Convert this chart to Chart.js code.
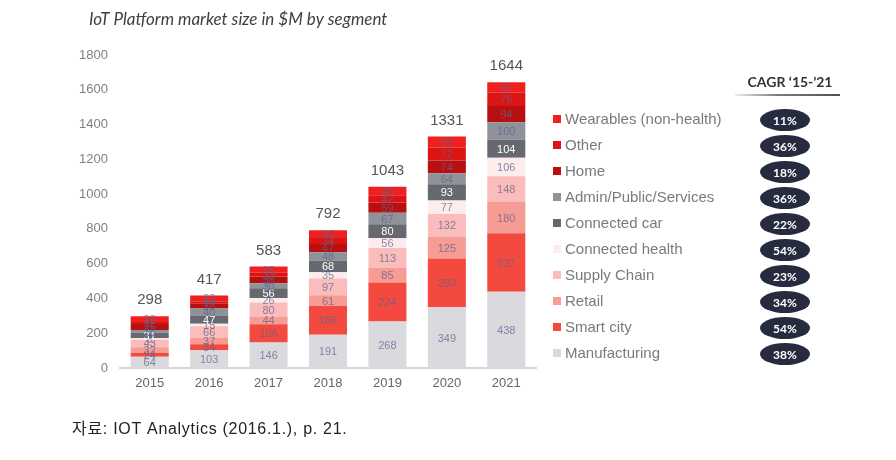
<!DOCTYPE html>
<html>
<head>
<meta charset="utf-8">
<script src="https://cdn.jsdelivr.net/npm/chart.js@4"></script>
<style>
  body { margin: 0; background: #fff; }
  #wrap { width: 896px; height: 460px; position: relative; }
</style>
</head>
<body>
<div id="wrap"><canvas id="iotChart" width="896" height="460"></canvas></div>
<script>
const years = ['2015', '2016', '2017', '2018', '2019', '2020', '2021'];

// segments, bottom of the stack first
const manufacturing   = [64, 103, 146, 191, 268, 349, 438];
const smartCity       = [24, 34, 106, 166, 224, 280, 337];
const retail          = [32, 37, 44, 61, 85, 125, 180];
const supplyChain     = [43, 66, 80, 97, 113, 132, 148];
const connectedHealth = [8, 15, 26, 35, 56, 77, 106];
const connectedCar    = [31, 47, 56, 68, 80, 93, 104];
const adminPublic     = [16, 40, 30, 48, 67, 64, 100];
const home            = [35, 28, 38, 47, 59, 74, 94];
const other           = [12, 14, 22, 34, 42, 72, 76];
const wearables       = [33, 33, 35, 45, 49, 65, 61];

const segmentNames = ['Manufacturing', 'Smart city', 'Retail', 'Supply Chain', 'Connected health',
                      'Connected car', 'Admin/Public/Services', 'Home', 'Other', 'Wearables (non-health)'];
const cagr = ['38%', '54%', '34%', '23%', '54%', '22%', '36%', '18%', '36%', '11%'];

const seriesData = [manufacturing, smartCity, retail, supplyChain, connectedHealth,
                    connectedCar, adminPublic, home, other, wearables];
const colors = ['#d9d9de', '#f4493f', '#f79b95', '#fbbdbb', '#fcecec',
                '#66696f', '#8f9298', '#b80f10', '#dc1414', '#f02020'];

const datasets = seriesData.map((d, i) => ({
    label: segmentNames[i],
    data: d,
    backgroundColor: colors[i],
    borderWidth: 0,
    barPercentage: 0.64,
    categoryPercentage: 1.0
}));

// value labels inside segments + totals on top
const labelPlugin = {
    id: 'segLabels',
    afterDatasetsDraw(chart) {
        const ctx = chart.ctx;
        ctx.save();
        ctx.textAlign = 'center';
        ctx.textBaseline = 'middle';
        chart.data.datasets.forEach((ds, i) => {
            const meta = chart.getDatasetMeta(i);
            meta.data.forEach((bar, j) => {
                const mid = (bar.y + bar.base) / 2;
                ctx.font = '11px "Liberation Sans", Arial, sans-serif';
                ctx.fillStyle = i === 5 ? '#ffffff' : 'rgba(92, 100, 140, 0.72)';
                ctx.fillText(ds.data[j], bar.x, mid + 1);
            });
        });
        // totals
        const lastMeta = chart.getDatasetMeta(chart.data.datasets.length - 1);
        ctx.font = '15px "Liberation Sans", Arial, sans-serif';
        ctx.fillStyle = '#555';
        lastMeta.data.forEach((bar, j) => {
            let total = 0;
            chart.data.datasets.forEach(ds => { total += ds.data[j]; });
            ctx.fillText(total, bar.x, bar.y - 16);
        });
        ctx.restore();
    }
};

// title, legend, CAGR column, source
const decoPlugin = {
    id: 'deco',
    afterDraw(chart) {
        const ctx = chart.ctx;
        ctx.save();
        ctx.textBaseline = 'middle';
        ctx.textAlign = 'left';
        ctx.font = 'italic 17px Lato, "Open Sans", sans-serif';
        ctx.fillStyle = '#404040';
        ctx.fillText('IoT Platform market size in $M by segment', 89, 20);

        // CAGR header
        ctx.textAlign = 'center';
        ctx.font = 'bold 14px Lato, "Open Sans", sans-serif';
        ctx.fillStyle = '#333';
        ctx.fillText('CAGR \u201815-\u201921', 790, 82);
        const grad = ctx.createLinearGradient(735, 0, 840, 0);
        grad.addColorStop(0, 'rgba(90,90,100,0.1)');
        grad.addColorStop(0.4, 'rgba(90,90,100,0.8)');
        grad.addColorStop(1, 'rgba(60,60,70,0.9)');
        ctx.fillStyle = grad;
        ctx.fillRect(735, 94, 105, 2);

        for (let k = 0; k < segmentNames.length; k++) {
            const i = segmentNames.length - 1 - k;
            const y = 119 + k * 26;
            ctx.fillStyle = colors[i];
            ctx.fillRect(553, y - 4, 8, 8);
            ctx.textAlign = 'left';
            ctx.font = '15px "Liberation Sans", Arial, sans-serif';
            ctx.fillStyle = '#7a7a7a';
            ctx.fillText(segmentNames[i], 565, y + 1);

            ctx.beginPath();
            ctx.ellipse(785, y + 1, 25, 11, 0, 0, Math.PI * 2);
            ctx.fillStyle = '#272b3f';
            ctx.fill();
            ctx.textAlign = 'center';
            ctx.font = 'bold 12px Lato, "Open Sans", sans-serif';
            ctx.fillStyle = '#ffffff';
            ctx.fillText(cagr[i], 785, y + 2);
        }

        ctx.textAlign = 'left';
        ctx.font = '16px "Liberation Sans", "Noto Sans CJK KR", sans-serif';
        ctx.letterSpacing = '0.7px';
        ctx.fillStyle = '#222';
        ctx.fillText('자료: IOT Analytics (2016.1.), p. 21.', 72, 430);
        ctx.restore();
    }
};

new Chart(document.getElementById('iotChart'), {
    type: 'bar',
    data: { labels: years, datasets: datasets },
    options: {
        responsive: false,
        animation: false,
        layout: { padding: { left: 60, right: 360, top: 55, bottom: 67 } },
        plugins: {
            legend: { display: false },
            tooltip: { enabled: false }
        },
        scales: {
            x: {
                stacked: true,
                grid: { display: false, drawTicks: false },
                border: { display: true, color: '#d6d6d6', width: 2 },
                ticks: {
                    color: '#666',
                    font: { size: 13, family: '"Liberation Sans", Arial, sans-serif' },
                    padding: 8
                },
                afterFit(scale) { scale.height = 25; }
            },
            y: {
                stacked: true,
                min: 0,
                max: 1800,
                grid: { display: false, drawTicks: false },
                border: { display: false },
                ticks: {
                    stepSize: 200,
                    color: '#808080',
                    font: { size: 13, family: '"Liberation Sans", Arial, sans-serif' },
                    padding: 12,
                    callback: v => String(v)
                },
                afterFit(scale) { scale.width = 60; }
            }
        }
    },
    plugins: [labelPlugin, decoPlugin]
});
</script>
</body>
</html>
